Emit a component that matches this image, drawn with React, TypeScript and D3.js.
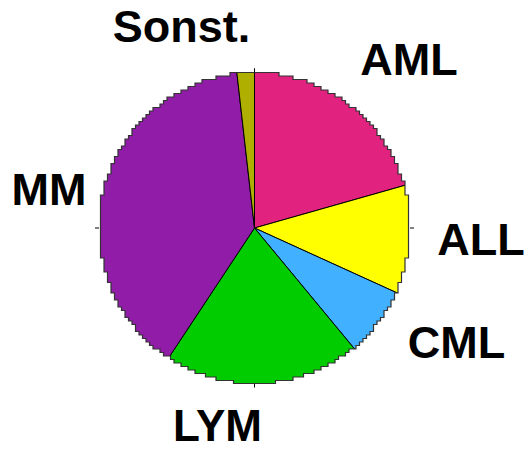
import React from 'react';
import * as d3 from 'd3';

const categories = ['AML', 'ALL', 'CML', 'LYM', 'MM', 'Sonst.'];
const values = [20.6, 11.2, 7.2, 20.3, 38.9, 1.8];
const colors = ['#E2227F', '#FFFF00', '#40B0FF', '#00CC00', '#901CA8', '#AFAF00'];
const tickAngles = [0, 90, 180, 270];

const W = 529;
const H = 451;
const cx = 254.5;
const cy = 228;
const r = 155.5;

// label anchors (center x, baseline y)
const labelPos: Record<string, [number, number]> = {
  'AML': [409, 75],
  'ALL': [481, 255],
  'CML': [456.5, 358],
  'LYM': [217.5, 441],
  'MM': [49, 205],
  'Sonst.': [181.5, 42],
};

// stair-stepped circle outline, like a low-res raster
function steppedCircle(rad: number, g: number) {
  const rows = Math.ceil((2 * rad) / g);
  const right: [number, number][] = [];
  const left: [number, number][] = [];
  for (let i = 0; i < rows; i++) {
    const y0 = -rad + i * g;
    const y1 = Math.min(rad, y0 + g);
    const ym = (y0 + y1) / 2;
    const hw = Math.round(Math.sqrt(Math.max(0, rad * rad - ym * ym)) / g) * g;
    right.push([hw, y0], [hw, y1]);
    left.push([-hw, y0], [-hw, y1]);
  }
  const pts = right.concat(left.reverse());
  return 'M' + pts.map(p => p.join(',')).join('L') + 'Z';
}

export default function App() {
  const pie = d3.pie<number>().sort(null).value(d => d);
  const arcs = pie(values);
  const arc = d3.arc<d3.PieArcDatum<number>>().innerRadius(0).outerRadius(r + 6);
  const outline = steppedCircle(r, 3.5);

  return (
    <svg width={W} height={H} style={{ position: 'absolute', left: 0, top: 0, background: '#fff' }}>
      <defs>
        <clipPath id="pieClip">
          <path d={outline} />
        </clipPath>
      </defs>
      <g transform={`translate(${cx},${cy})`}>
        {tickAngles.map(a => {
          const t = (a * Math.PI) / 180;
          const x0 = Math.sin(t) * r, y0 = -Math.cos(t) * r;
          const x1 = Math.sin(t) * (r + 4), y1 = -Math.cos(t) * (r + 4);
          return <line key={a} x1={x0} y1={y0} x2={x1} y2={y1} stroke="#000" strokeWidth={1} />;
        })}
        <g clipPath="url(#pieClip)">
          {arcs.map((d, i) => (
            <path key={categories[i]} d={arc(d) || ''} fill={colors[i]} stroke="#000" strokeWidth={1} />
          ))}
        </g>
        <path d={outline} fill="none" stroke="#333" strokeWidth={1.2} />
        <line x1={0} y1={-r} x2={0} y2={-r - 4} stroke="#000" />
      </g>
      {categories.map(c => (
        <text
          key={c}
          x={labelPos[c][0]}
          y={labelPos[c][1]}
          textAnchor="middle"
          fontFamily="'Liberation Sans', Arial, sans-serif"
          fontWeight="bold"
          fontSize={c === 'LYM' ? 44 : 45}
          fill="#000"
        >
          {c}
        </text>
      ))}
    </svg>
  );
}
